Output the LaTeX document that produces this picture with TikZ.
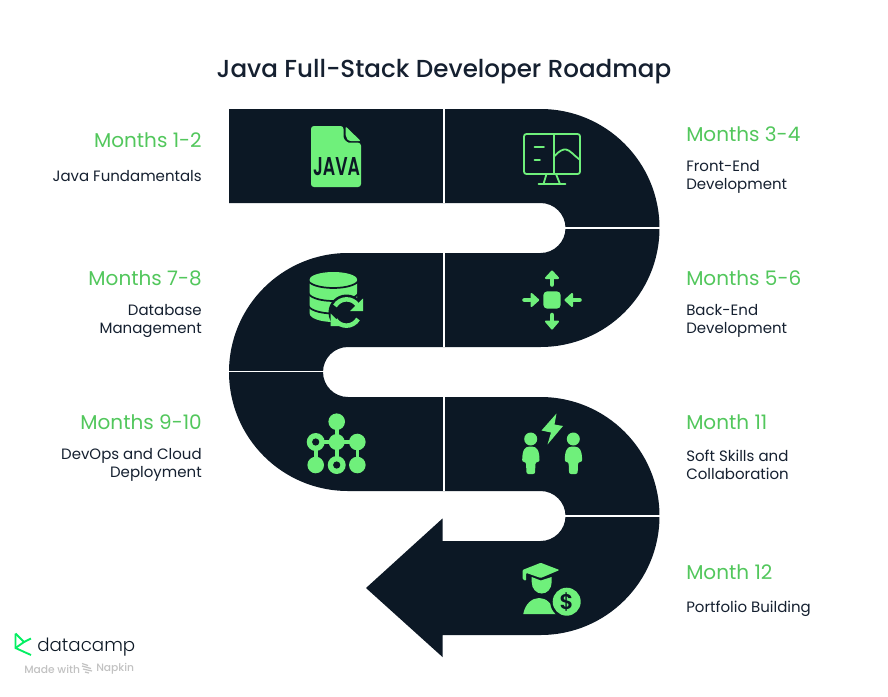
\documentclass[tikz,border=0pt]{standalone}
\usepackage{fontspec}
\usepackage{graphicx}
\setmainfont{Poppins}
\newfontfamily\pmed{Poppins Medium}
\newfontfamily\pbold{Poppins SemiBold}
\newfontfamily\plight{Poppins Light}
\definecolor{navy}{HTML}{0C1825}
\definecolor{icon}{HTML}{6FF07B}
\definecolor{head}{HTML}{52C75C}
\definecolor{ink}{HTML}{152030}
\definecolor{faint}{HTML}{C2C2C2}
\definecolor{logogreen}{HTML}{03EF62}
\tikzset{
  band/.style={fill=navy,draw=none},
  sep/.style={draw=white,line width=1.3pt},
  ic/.style={fill=icon,draw=none},
  icl/.style={draw=icon,line width=1.35pt,line cap=round,line join=round},
  titlet/.style={anchor=center,text=ink,inner sep=0pt,font=\pmed\fontsize{18.45}{20}\selectfont},
  headl/.style={anchor=east,text=head,inner sep=0pt,font=\fontsize{15}{18}\selectfont},
  headr/.style={anchor=west,text=head,inner sep=0pt,font=\fontsize{15}{18}\selectfont},
  descl/.style={anchor=east,align=right,text=ink,inner sep=0pt,font=\fontsize{11.25}{13.5}\selectfont},
  descr/.style={anchor=west,align=left,text=ink,inner sep=0pt,font=\fontsize{11.25}{13.5}\selectfont},
  headtip/.style={fill=icon,draw=icon,line width=1.5pt,line join=round},
  stem/.style={draw=icon,line width=3.4pt,line cap=round},
  linkl/.style={draw=icon,line width=2.7pt},
  gap/.style={draw=navy,line width=1.3pt},
}
\begin{document}
\begin{tikzpicture}[x=0.75pt,y=-0.75pt]
\useasboundingbox (0,0) rectangle (888,696);
\fill[white] (0,0) rectangle (888,696);
% serpentine band
\fill[band] (229,109) -- (540.5,109)
  arc[start angle=90,end angle=-90,radius=119*0.75pt]
  -- (348,347)
  arc[start angle=90,end angle=180,radius=25*0.75pt] -- (323,372)
  arc[start angle=180,end angle=270,radius=25*0.75pt] -- (540.5,397)
  arc[start angle=90,end angle=-90,radius=119*0.75pt]
  -- (442.5,635) -- (442.5,657) -- (366,588) -- (442.5,518.5) -- (442.5,541) -- (540.5,541)
  arc[start angle=-90,end angle=0,radius=25*0.75pt]
  arc[start angle=0,end angle=90,radius=25*0.75pt]
  -- (348,491)
  arc[start angle=-90,end angle=-180,radius=119*0.75pt]
  arc[start angle=180,end angle=90,radius=119*0.75pt]
  -- (540.5,253)
  arc[start angle=-90,end angle=0,radius=25*0.75pt]
  arc[start angle=0,end angle=90,radius=25*0.75pt]
  -- (229,203) -- cycle;
\draw[sep] (444,109) -- (444,203);
\draw[sep] (444,253) -- (444,347);
\draw[sep] (444,397) -- (444,491);
\draw[sep] (565,228) -- (660.5,228);
\draw[sep] (228.5,371.5) -- (323.5,371.5);
\draw[sep] (565,516) -- (660.5,516);
% title
\node[titlet] (title) at (444,71.5) {Java Full-Stack Developer Roadmap};
% labels
\node[headl] (h1) at (202,140) {Months 1-2};
\node[descl] (d1) at (202,176.5) {Java Fundamentals};
\node[headr] (h2) at (686,134) {Months 3-4};
\node[descr] (d2) at (686,177.3) {Front-End\\Development};
\node[headr] (h3) at (686,278) {Months 5-6};
\node[descr] (d3) at (686,321.3) {Back-End\\Development};
\node[headl] (h4) at (202,278) {Months 7-8};
\node[descl] (d4) at (202,321.3) {Database\\Management};
\node[headl] (h5) at (202,422) {Months 9-10};
\node[descl] (d5) at (202,465.3) {DevOps and Cloud\\Deployment};
\node[headr] (h6) at (686,422) {Month 11};
\node[descr] (d6) at (686,465.3) {Soft Skills and\\Collaboration};
\node[headr] (h7) at (686,572) {Month 12};
\node[descr] (d7) at (686,609) {Portfolio Building};
% java icon
\fill[ic,rounded corners=2.2pt] (311,126) -- (343.5,126) -- (343.5,134) .. controls (343.5,139) and (347,142.7) .. (352,142.7) -- (361,142.7) -- (361,187) -- (311,187) -- cycle;
\fill[ic,rounded corners=0.8pt] (345.7,126.5) -- (360.7,141) -- (352,141) .. controls (348,141) and (345.7,138) .. (345.7,134) -- cycle;
\node[inner sep=0pt,text=navy] (javatxt) at (336.5,167) {\resizebox{35.25pt}{13.5pt}{\pbold JAVA}};
% monitor icon
\draw[icl,rounded corners=1.8pt] (524,134) rectangle (580,174);
\draw[icl] (554,134) -- (554,174);
\draw[icl] (534.5,147.3) -- (544,147.3) (534.5,160) -- (540,160);
\draw[icl] (554.5,156) .. controls (559,151) and (563,149) .. (566,149.5) .. controls (570,150) and (574,155.5) .. (579.5,159.5);
\draw[icl] (546.5,174) -- (543.5,184) (556,174) -- (560,184) (538.5,184) -- (565.5,184);
% database icon
\fill[ic] (309.7,279.5) -- (357,279.5) -- (357,313.5) arc[start angle=0,end angle=-180,x radius=23.65*0.75pt,y radius=8.5*0.75pt] -- cycle;
\fill[ic] (333.35,279.5) ellipse[x radius=23.65*0.75pt,y radius=7.5*0.75pt];
\draw[gap] (308,279.5) arc[start angle=180,end angle=360,x radius=25.3*0.75pt,y radius=8.5*0.75pt];
\draw[gap] (308,292) arc[start angle=180,end angle=360,x radius=25.3*0.75pt,y radius=9*0.75pt];
\draw[gap] (308,304.5) arc[start angle=180,end angle=360,x radius=25.3*0.75pt,y radius=9*0.75pt];
\fill[navy] (346.5,312.5) circle[radius=18*0.75pt];
\draw[icon,line width=3.4pt] (335,306) arc[start angle=150,end angle=35,radius=13.3*0.75pt];
\draw[icon,line width=3.4pt] (358,319) arc[start angle=-30,end angle=-145,radius=13.3*0.75pt];
\fill[ic] (363,298.5) -- (363,311) -- (350,311) -- cycle;
\fill[ic] (330.5,313.5) -- (330.5,326) -- (343,326) -- cycle;
% arrows icon
\fill[ic,rounded corners=3pt] (543.3,291.3) rectangle (560.7,308.7);
\draw[stem] (552,278) -- (552,284.5); \draw[headtip] (552,271.5) -- (558,278) -- (546,278) -- cycle;
\draw[stem] (552,321) -- (552,315); \draw[headtip] (552,328.5) -- (558,321.5) -- (546,321.5) -- cycle;
\draw[stem] (530,300) -- (524.5,300); \draw[headtip] (538.2,300) -- (531.5,294) -- (531.5,306) -- cycle;
\draw[stem] (573,300) -- (579.5,300); \draw[headtip] (565.5,300) -- (572,294) -- (572,306) -- cycle;
% network icon
\draw[linkl] (336.7,421.7) -- (336.7,465) (315.7,442) -- (357.3,442) (315.7,442) -- (315.7,465) (357.3,442) -- (357.3,465);
\fill[ic] (336.7,421.7) circle[radius=8.3*0.75pt];
\fill[ic] (336.7,442) circle[radius=8*0.75pt];
\fill[ic] (357.3,442) circle[radius=8.3*0.75pt];
\fill[ic] (315.7,465) circle[radius=8.3*0.75pt];
\fill[ic] (357.3,465) circle[radius=8.3*0.75pt];
\fill[ic] (315.7,442) circle[radius=9*0.75pt];
\fill[navy] (315.7,442) circle[radius=3.6*0.75pt];
\fill[ic] (336.7,465) circle[radius=9*0.75pt];
\fill[navy] (336.7,465) circle[radius=3.6*0.75pt];
% people icon
\fill[ic] (530.7,439) circle[radius=6.5*0.75pt];
\fill[ic] (573.3,439) circle[radius=6.5*0.75pt];
\fill[ic,rounded corners=1.5pt] (522.2,462) .. controls (522.2,450) and (525,446.7) .. (530.7,446.7) .. controls (536.5,446.7) and (539.5,450) .. (539.5,462) -- (535.5,462) -- (535,474) -- (526.5,474) -- (526,462) -- cycle;
\fill[ic,rounded corners=1.5pt] (564.8,462) .. controls (564.8,450) and (567.6,446.7) .. (573.3,446.7) .. controls (579.1,446.7) and (582.1,450) .. (582.1,462) -- (578.1,462) -- (577.6,474) -- (569.1,474) -- (568.6,462) -- cycle;
\fill[ic] (556.5,413.5) -- (541.5,430.5) -- (551,432.5) -- (547.5,444.5) -- (563,426) -- (554.5,424.5) -- cycle;
% graduate icon
\fill[ic,rounded corners=0.8pt] (522.5,570) -- (540.7,562.8) -- (559.5,570) -- (540.7,578) -- (526,572.8) -- (526,581) -- (522.5,579) -- cycle;
\fill[ic] (531.7,577) -- (540.7,580.5) -- (551.7,577) -- (551.7,582) .. controls (551.7,589) and (547,593.5) .. (541.7,593.5) .. controls (536.5,593.5) and (531.7,589) .. (531.7,582) -- cycle;
\fill[ic] (523.3,614) .. controls (525,604) and (532,598) .. (539,598) .. controls (546,598) and (552,603) .. (556,614) -- cycle;
\fill[navy] (566.7,601.7) circle[radius=16.5*0.75pt];
\fill[ic] (566.7,601.7) circle[radius=14*0.75pt];
\node[inner sep=0pt,text=navy] (dollar) at (566.7,601.7) {\pbold\fontsize{16}{16}\selectfont\$};
% logo
\draw[logogreen,line width=1.4pt,line join=miter] (15.5,633.5) -- (15.5,648) -- (31,655);
\draw[logogreen,line width=1.4pt,line join=miter] (15.5,633.5) -- (24,642) -- (15.5,648);
\draw[logogreen,line width=1.4pt] (24,642) -- (31,638.5);
\node[anchor=west,inner sep=0pt,text=navy,font=\plight\fontsize{13.7}{15}\selectfont] (brand) at (37,647) {datacamp};
\node[anchor=west,inner sep=0pt,text=faint,font=\pmed\fontsize{8}{10}\selectfont] (made) at (24,669) {Made with};
\node[anchor=west,inner sep=0pt,text=faint,font=\pmed\fontsize{8}{10}\selectfont] (napkin) at (96,669) {Napkin};
\draw[faint,line width=0.9pt] (82,663.5) -- (88,665.5) (82,666) -- (91,668.5) (83,669) -- (92,671) (85,672) -- (89,673);
\end{tikzpicture}
\end{document}
